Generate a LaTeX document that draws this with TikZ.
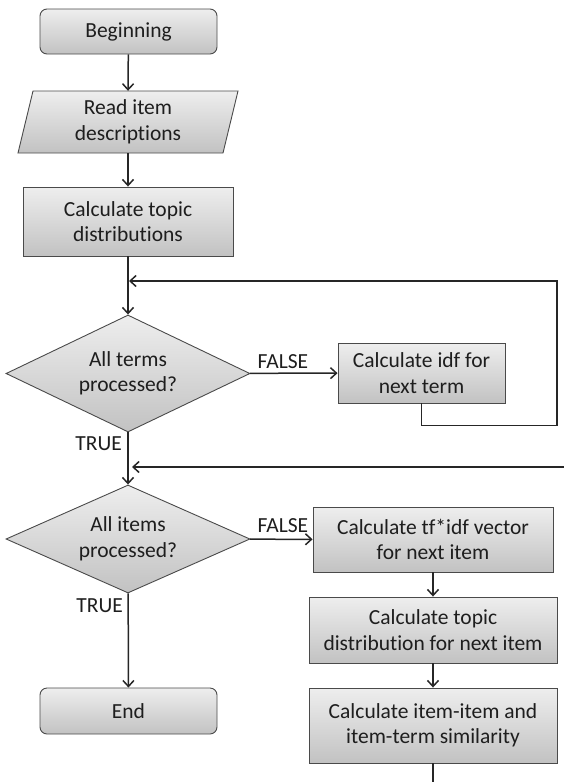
\documentclass[tikz,border=0pt]{standalone}
\usepackage{fontspec}
\setmainfont{Carlito}[Ligatures={NoCommon}]
\usetikzlibrary{shapes.geometric,arrows.meta}
\definecolor{linec}{HTML}{262626}
\definecolor{boxborder}{HTML}{4A4A4A}
\definecolor{topc}{HTML}{EEEEEE}
\definecolor{botc}{HTML}{C2C2C2}
\definecolor{txt}{HTML}{1E1E1E}
\begin{document}
\begin{tikzpicture}[
  txtfont/.style={font=\fontsize{21.5}{25.5}\selectfont},
  box/.style={draw=boxborder, line width=0.9pt, top color=topc, bottom color=botc,
              text=txt, align=center, inner sep=0pt, txtfont},
  rbox/.style={box, rounded corners=7pt},
  dia/.style={box, diamond, shape aspect=2.08},
  plain/.style={text=txt, align=center, inner sep=0pt, txtfont},
  lab/.style={text=txt, inner sep=0pt, txtfont},
  conn/.style={draw=linec, line width=1.5pt},
  arr/.style={conn, -{Straight Barb[length=6pt,width=11pt]}}
]
\useasboundingbox (0,0) rectangle (564pt,-782pt);

% nodes
\node[rbox, minimum width=177pt, minimum height=45pt] (begin) at (128.5pt,-31.5pt) {Beginning};
\path[box] (33pt,-91pt) -- (238pt,-91pt) -- (223pt,-153pt) -- (18pt,-153pt) -- cycle;
\node[plain, minimum width=205pt, minimum height=62pt] (read) at (128pt,-122pt) {Read item\\descriptions};
\node[box, minimum width=210pt, minimum height=69pt] (topic) at (128pt,-221.5pt) {Calculate topic\\distributions};
\node[dia, minimum width=244pt, minimum height=117pt] (d1) at (128pt,-373.5pt) {All terms\\processed?};
\node[box, minimum width=167pt, minimum height=60pt] (idf) at (421.5pt,-373pt) {Calculate idf for\\next term};
\node[dia, minimum width=244pt, minimum height=108pt] (d2) at (128pt,-539pt) {All items\\processed?};
\node[box, minimum width=240pt, minimum height=65pt] (tfidf) at (433pt,-539.5pt) {Calculate tf*idf vector\\for next item};
\node[box, minimum width=248pt, minimum height=66pt] (topic2) at (433pt,-630pt) {Calculate topic\\distribution for next item};
\node[box, minimum width=248pt, minimum height=75pt] (sim) at (433pt,-725.5pt) {Calculate item-item and\\item-term similarity};
\node[rbox, minimum width=177pt, minimum height=46pt] (end) at (128.5pt,-711pt) {End};

% coordinates
\coordinate (j1) at (129pt,-281pt);
\coordinate (idfdown) at (421.5pt,-425.5pt);
\coordinate (rt) at (557pt,-281pt);
\coordinate (j2) at (132pt,-467pt);
\coordinate (edge2) at (564pt,-467pt);
\coordinate (bottom) at (433pt,-782pt);

% connectors
\draw[arr] (begin) -- (read.north);
\draw[arr] (read.south) -- (topic);
\draw[arr] (topic) -- (d1);
\draw[arr] (idf.south) -- (idfdown) -| (rt) -- (j1);
\draw[arr] (d1) -- (idf);
\draw[arr] (d1) -- (d2);
\draw[arr] (edge2) -- (j2);
\draw[arr] (d2) -- (tfidf);
\draw[arr] (d2) -- (end);
\draw[arr] (tfidf) -- (topic2);
\draw[arr] (topic2) -- (sim);
\draw[conn] (sim) -- (bottom);

% labels
\node[lab, anchor=south west] (f1) at ([xshift=7pt,yshift=5pt]d1.east) {FALSE};
\node[lab, anchor=north east] (t1) at ([xshift=-6pt,yshift=-4pt]d1.south) {TRUE};
\node[lab, anchor=south west] (f2) at ([xshift=7pt,yshift=6pt]d2.east) {FALSE};
\node[lab, anchor=north east] (t2) at ([xshift=-5pt,yshift=-5pt]d2.south) {TRUE};
\end{tikzpicture}
\end{document}
